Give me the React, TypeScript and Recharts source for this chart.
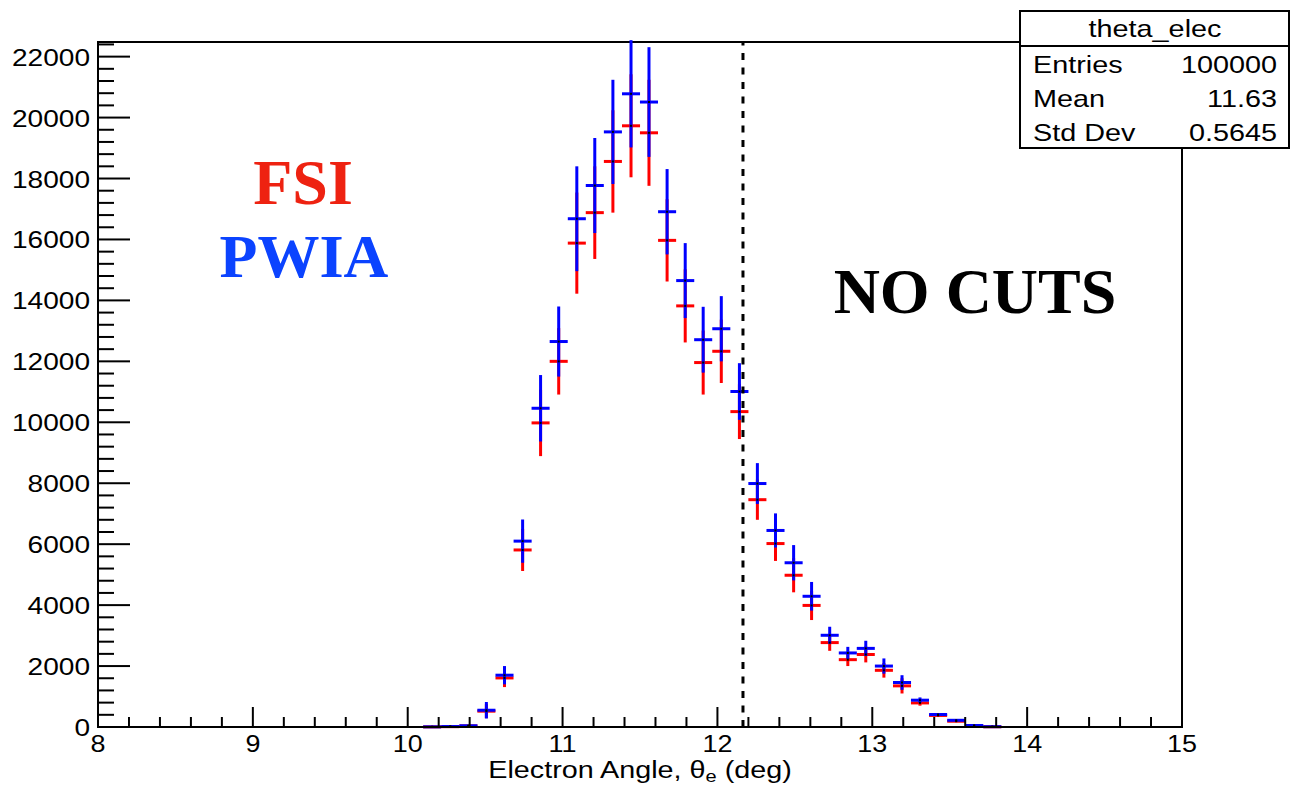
import React from "react";
import {
  ComposedChart,
  Scatter,
  ErrorBar,
  XAxis,
  YAxis,
  ReferenceLine,
  ReferenceArea,
} from "recharts";

// bin centres of the filled bins (60 bins between 8 and 15 deg)
const binCenters = [
  10.158, 10.275, 10.392, 10.508, 10.625, 10.742, 10.858, 10.975, 11.092, 11.208,
  11.325, 11.442, 11.558, 11.675, 11.792, 11.908, 12.025, 12.142, 12.258, 12.375,
  12.492, 12.608, 12.725, 12.842, 12.958, 13.075, 13.192, 13.308, 13.425, 13.542,
  13.658, 13.775,
];
const binHalfWidth = 0.0583;

const pwiaCounts = [
  5, 15, 40, 550, 1700, 6100, 10460, 12650, 16680, 17770, 19530, 20780, 20510, 16910,
  14650, 12710, 13070, 11010, 7990, 6450, 5390, 4290, 3010, 2430, 2580, 2000, 1460,
  880, 410, 220, 50, 10,
];
const pwiaErrors = [
  0, 0, 0, 270, 300, 710, 1090, 1150, 1720, 1560, 1710, 1760, 1800, 1400, 1230, 1080,
  1070, 930, 670, 560, 580, 470, 280, 200, 250, 250, 240, 90, 40, 20, 0, 0,
];
const fsiCounts = [
  4, 12, 35, 520, 1610, 5810, 9980, 12000, 15880, 16880, 18560, 19730, 19500, 15970,
  13820, 11960, 12330, 10350, 7460, 6020, 4980, 3990, 2770, 2210, 2380, 1860, 1350,
  790, 380, 190, 40, 8,
];
const fsiErrors = [
  0, 0, 0, 230, 300, 690, 1090, 1090, 1660, 1520, 1680, 1690, 1740, 1350, 1200, 1050,
  1040, 900, 660, 570, 560, 480, 270, 210, 260, 240, 250, 90, 40, 20, 0, 0,
];

const cutValue = 12.165;
const xMajorTicks = [8, 9, 10, 11, 12, 13, 14, 15];
const yMajorTicks = [0, 2000, 4000, 6000, 8000, 10000, 12000, 14000, 16000, 18000, 20000, 22000];
const yMax = 22480;

const stats = [
  { label: "Entries", value: "100000" },
  { label: "Mean", value: "11.63" },
  { label: "Std Dev", value: "0.5645" },
];

// minor ticks: 5 per x division, 5 per y division
const xTicks: number[] = [];
for (let i = 0; i <= 35; i++) xTicks.push(Math.round((8 + i * 0.2) * 10) / 10);
const yTicks: number[] = [];
for (let i = 0; i <= 56; i++) yTicks.push(i * 400);

const pwiaData = binCenters.map((x, i) => ({ x, y: pwiaCounts[i], ey: pwiaErrors[i], ex: binHalfWidth }));
const fsiData = binCenters.map((x, i) => ({ x, y: fsiCounts[i], ey: fsiErrors[i], ex: binHalfWidth }));

const SANS = "'Liberation Sans', Arial, Helvetica, sans-serif";
const SERIF = "'Liberation Serif', 'Times New Roman', serif";

const XTick = (props: any) => {
  const { x, y, payload } = props;
  const v = payload.value;
  const major = xMajorTicks.includes(v);
  return (
    <g>
      <line x1={x} x2={x} y1={y} y2={y - (major ? 20 : 10)} stroke="#000" strokeWidth={2} />
      {major && (
        <text transform={`translate(${x},${y + 25}) scale(1.17,1)`} textAnchor="middle" fontSize={23} fontFamily={SANS} fill="#000">
          {v}
        </text>
      )}
    </g>
  );
};

const YTick = (props: any) => {
  const { x, y, payload } = props;
  const v = payload.value;
  const major = yMajorTicks.includes(v);
  return (
    <g>
      <line x1={x} x2={x + (major ? 32 : 16)} y1={y} y2={y} stroke="#000" strokeWidth={2} />
      {major && (
        <text transform={`translate(${x - 8},${y + 9}) scale(1.17,1)`} textAnchor="end" fontSize={24} fontFamily={SANS} fill="#000">
          {v}
        </text>
      )}
    </g>
  );
};

const dot = (props: any) => <rect x={props.cx - 1} y={props.cy - 1} width={2} height={2} fill="#000" />;

export default function App() {
  return (
    <div style={{ position: "absolute", left: 0, top: 0, width: 1291, height: 789, background: "#fff" }}>
      <ComposedChart width={1291} height={789} margin={{ top: 42, right: 109, bottom: 0, left: 0 }}>
        <XAxis
          type="number"
          dataKey="x"
          domain={[8, 15]}
          ticks={xTicks}
          interval={0}
          allowDataOverflow
          height={62}
          tickSize={0}
          tickMargin={0}
          tickLine={false}
          tick={<XTick />}
          axisLine={{ stroke: "#000", strokeWidth: 2 }}
        />
        <YAxis
          type="number"
          dataKey="y"
          domain={[0, yMax]}
          ticks={yTicks}
          interval={0}
          allowDataOverflow
          width={98}
          tickSize={0}
          tickMargin={0}
          tickLine={false}
          tick={<YTick />}
          axisLine={{ stroke: "#000", strokeWidth: 2 }}
        />
        <ReferenceArea x1={8} x2={15} y1={0} y2={yMax} fill="none" stroke="#000" strokeWidth={2} />
        <Scatter data={fsiData} shape={dot} isAnimationActive={false}>
          <ErrorBar dataKey="ey" direction="y" width={0} stroke="#ff0000" strokeWidth={3} />
          <ErrorBar dataKey="ex" direction="x" width={0} stroke="#ff0000" strokeWidth={3} />
        </Scatter>
        <Scatter data={pwiaData} shape={dot} isAnimationActive={false}>
          <ErrorBar dataKey="ey" direction="y" width={0} stroke="#0000ff" strokeWidth={3} />
          <ErrorBar dataKey="ex" direction="x" width={0} stroke="#0000ff" strokeWidth={3} />
        </Scatter>
        <ReferenceLine x={cutValue} stroke="#000" strokeWidth={3} strokeDasharray="7 7.5" />
      </ComposedChart>
      <svg width={1291} height={789} style={{ position: "absolute", left: 0, top: 0, pointerEvents: "none" }}>
        <text x={303} y={204} textAnchor="middle" fontSize={64} fontWeight="bold" fontFamily={SERIF} fill="#ee2211">
          FSI
        </text>
        <text x={304} y={277} textAnchor="middle" fontSize={62} fontWeight="bold" fontFamily={SERIF} fill="#0b43ff">
          PWIA
        </text>
        <text x={975} y={313} textAnchor="middle" fontSize={64} fontWeight="bold" fontFamily={SERIF} fill="#000">
          NO CUTS
        </text>
        <text transform="translate(640,778) scale(1.25,1)" textAnchor="middle" fontSize={23} fontFamily={SANS} fill="#000">
          Electron Angle, θ<tspan fontSize={16} dy={4}>e</tspan>
          <tspan dy={-4}> (deg)</tspan>
        </text>
        <rect x={1020} y={11} width={269} height={137} fill="#fff" stroke="#000" strokeWidth={2} />
        <line x1={1020} x2={1289} y1={46} y2={46} stroke="#000" strokeWidth={2} />
        <text transform="translate(1155,37) scale(1.2,1)" textAnchor="middle" fontSize={24} fontFamily={SANS} fill="#000">
          theta_elec
        </text>
        {stats.map((s, i) => (
          <g key={s.label}>
            <text transform={`translate(1033,${73 + i * 34}) scale(1.2,1)`} fontSize={24} fontFamily={SANS} fill="#000">
              {s.label}
            </text>
            <text transform={`translate(1277,${73 + i * 34}) scale(1.2,1)`} textAnchor="end" fontSize={24} fontFamily={SANS} fill="#000">
              {s.value}
            </text>
          </g>
        ))}
      </svg>
    </div>
  );
}
